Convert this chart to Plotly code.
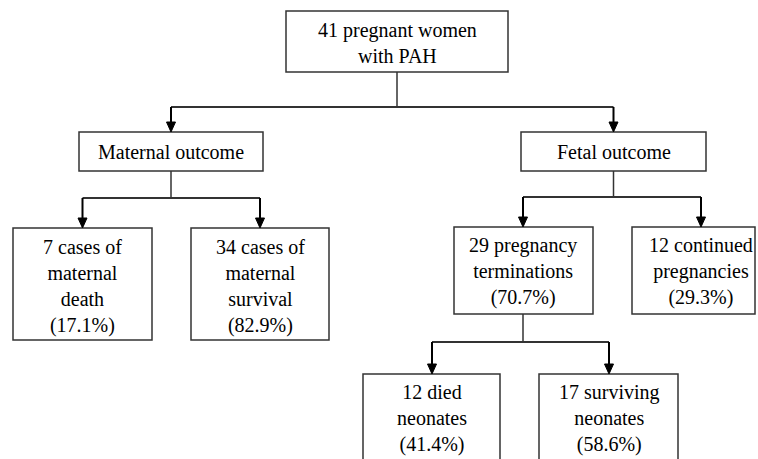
import plotly.graph_objects as go

# ---- data (text content of the flowchart) ----
node_ids = ["root", "maternal", "fetal", "m_death", "m_surv", "term", "cont", "n_died", "n_surv"]
node_texts = [
    "41 pregnant women<br>with PAH",
    "Maternal outcome",
    "Fetal outcome",
    "7 cases of<br>maternal<br>death",
    "34 cases of<br>maternal<br>survival",
    "29 pregnancy<br>terminations",
    "12 continued<br>pregnancies",
    "12 died<br>neonates",
    "17 surviving<br>neonates",
]
node_percents = [None, None, None, "17.1%", "82.9%", "70.7%", "29.3%", "41.4%", "58.6%"]
edges = [
    ("root", ["maternal", "fetal"]),
    ("maternal", ["m_death", "m_surv"]),
    ("fetal", ["term", "cont"]),
    ("term", ["n_died", "n_surv"]),
]

# ---- layout (window pixel positions of boxes; y grows downward) ----
W, H = 758, 459
box_pos = {
    "root":     dict(x0=286, x1=508, y0=11,  y1=72,  cx=397),
    "maternal": dict(x0=79,  x1=263, y0=132, y1=171, cx=171),
    "fetal":    dict(x0=521, x1=706, y0=132, y1=171, cx=613.5),
    "m_death":  dict(x0=13,  x1=152, y0=228, y1=340, cx=82.5),
    "m_surv":   dict(x0=191, x1=329, y0=228, y1=340, cx=260),
    "term":     dict(x0=454, x1=593, y0=227, y1=314, cx=523),
    "cont":     dict(x0=632, x1=755, y0=227, y1=314, cx=701),
    "n_died":   dict(x0=363, x1=500, y0=374, y1=480, cx=432),
    "n_surv":   dict(x0=539, x1=678, y0=374, y1=480, cx=609),
}
bus_y = {"root": 107, "maternal": 198, "fetal": 197, "term": 342}
text_center_y = {
    "root": 43, "maternal": 152, "fetal": 152,
    "m_death": 286, "m_surv": 286, "term": 271, "cont": 271,
    "n_died": 418, "n_surv": 418,
}

FONT = "Liberation Serif"
BORDER = "#333333"

fig = go.Figure()
shapes = []
annotations = []

for nid, txt, pct in zip(node_ids, node_texts, node_percents):
    b = box_pos[nid]
    shapes.append(dict(type="rect", x0=b["x0"], x1=b["x1"], y0=b["y0"], y1=b["y1"],
                       line=dict(color=BORDER, width=1.5), fillcolor="white", layer="above"))
    label = txt if pct is None else f"{txt}<br>({pct})"
    annotations.append(dict(x=b["cx"], y=text_center_y[nid], text=label, showarrow=False,
                            xanchor="center", yanchor="middle", align="center",
                            font=dict(family=FONT, size=20, color="black")))

for parent, children in edges:
    p = box_pos[parent]
    by = bus_y[parent]
    shapes.append(dict(type="line", x0=p["cx"], x1=p["cx"], y0=p["y1"], y1=by,
                       line=dict(color=BORDER, width=1.5)))
    xs = [box_pos[c]["cx"] for c in children]
    shapes.append(dict(type="line", x0=min(xs), x1=max(xs), y0=by, y1=by,
                       line=dict(color=BORDER, width=2)))
    for c in children:
        cb = box_pos[c]
        tip = cb["y0"]
        shapes.append(dict(type="line", x0=cb["cx"], x1=cb["cx"], y0=by, y1=tip - 8,
                           line=dict(color="black", width=2)))
        shapes.append(dict(type="path",
                           path=f"M {cb['cx']-4.5},{tip-10} L {cb['cx']+4.5},{tip-10} L {cb['cx']},{tip} Z",
                           fillcolor="black", line=dict(color="black", width=1)))

fig.update_layout(
    width=W, height=H,
    margin=dict(l=0, r=0, t=0, b=0),
    paper_bgcolor="white", plot_bgcolor="white",
    xaxis=dict(range=[0, W], visible=False, fixedrange=True),
    yaxis=dict(range=[H, 0], visible=False, fixedrange=True),
    shapes=shapes, annotations=annotations, showlegend=False,
)
fig.write_html(
    "out.html",
    config={"displayModeBar": False},
    post_script="document.body.style.margin='0';document.body.style.overflow='hidden';",
)
